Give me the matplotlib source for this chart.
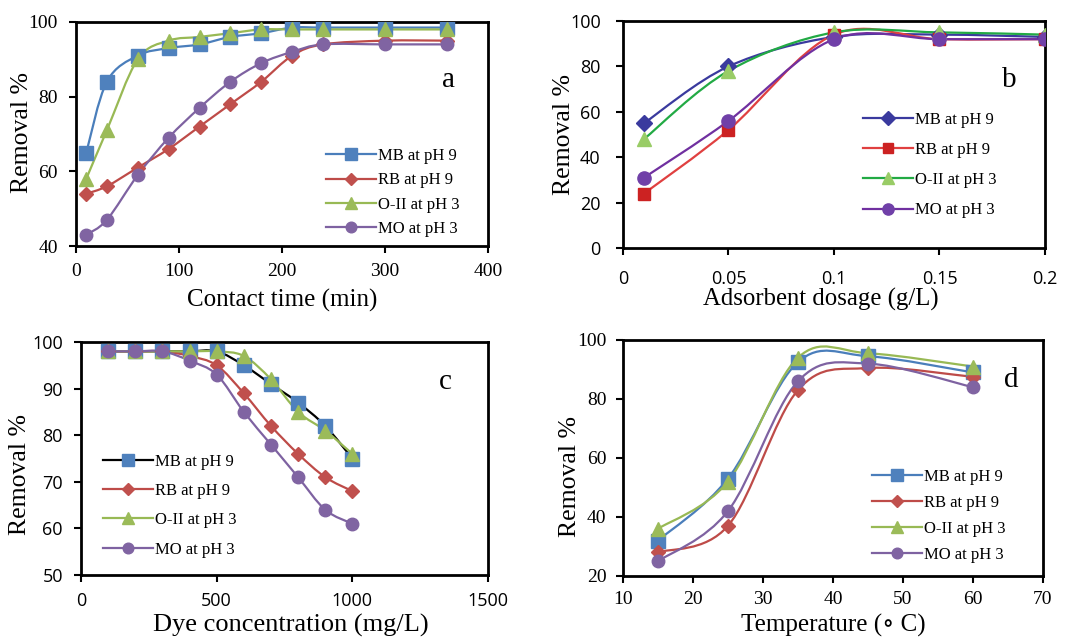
import matplotlib
matplotlib.use("Agg")
import matplotlib.pyplot as plt
import numpy as np
from matplotlib.path import Path
from matplotlib.patches import PathPatch
from matplotlib.lines import Line2D

# ---------------- data ----------------
series_names = ["MB at pH 9", "RB at pH 9", "O-II at pH 3", "MO at pH 3"]

time_min = [10, 30, 60, 90, 120, 150, 180, 210, 240, 300, 360]
a_mb = [65, 84, 91, 93, 94, 96, 97, 98.5, 98.5, 98.5, 98.5]
a_rb = [54, 56, 61, 66, 72, 78, 84, 91, 94, 95, 95]
a_o2 = [58, 71, 90, 95, 96, 97, 98, 98, 98, 98, 98]
a_mo = [43, 47, 59, 69, 77, 84, 89, 92, 94, 94, 94]

dosage = [0.01, 0.05, 0.1, 0.15, 0.2]
b_mb = [55, 80, 93, 94, 93]
b_rb = [24, 52, 94, 92, 92]
b_o2 = [48, 78, 95, 95, 94]
b_mo = [31, 56, 92, 92, 92]

conc = [100, 200, 300, 400, 500, 600, 700, 800, 900, 1000]
c_mb = [98, 98, 98, 98, 98, 95, 91, 87, 82, 75]
c_rb = [98, 98, 98, 97, 95, 89, 82, 76, 71, 68]
c_o2 = [98, 98, 98, 98, 98, 97, 92, 85, 81, 76]
c_mo = [98, 98, 98, 96, 93, 85, 78, 71, 64, 61]

temp = [15, 25, 35, 45, 60]
d_mb = [32, 53, 92.5, 94.5, 89]
d_rb = [28, 37, 83, 90.5, 87.5]
d_o2 = [36, 52, 94, 95.5, 91]
d_mo = [25, 42, 86, 92, 84]

# ---------------- styles ----------------
SERIF = ["Liberation Serif", "DejaVu Serif"]
SANS = ["Open Sans", "DejaVu Sans"]

excel_style = [
    dict(lc="#4A7EBB", mc="#4F81BD", m="s", ms=9.5),
    dict(lc="#BE4B48", mc="#C0504D", m="D", ms=7.5),
    dict(lc="#98B954", mc="#9BBB59", m="^", ms=10),
    dict(lc="#7E62A1", mc="#8064A2", m="o", ms=9),
]
b_style = [
    dict(lc="#3A3A9E", mc="#3A3A9E", m="D", ms=8.5),
    dict(lc="#E04040", mc="#CC2222", m="s", ms=9),
    dict(lc="#22AA44", mc="#99CC66", m="^", ms=10),
    dict(lc="#7030A0", mc="#7040A8", m="o", ms=9.5),
]
c_style = [dict(excel_style[0]), excel_style[1], excel_style[2], excel_style[3]]
c_style[0]["lc"] = "#000000"


def smooth_path(x, y):
    """Excel-like smoothed line as cubic Bezier path through the data points."""
    x = np.asarray(x, float)
    y = np.asarray(y, float)
    px = np.concatenate([[x[0]], x, [x[-1]]])
    py = np.concatenate([[y[0]], y, [y[-1]]])
    verts = [(x[0], y[0])]
    codes = [Path.MOVETO]
    for i in range(1, len(px) - 2):
        c1 = (px[i] + (px[i + 1] - px[i - 1]) / 6, py[i] + (py[i + 1] - py[i - 1]) / 6)
        c2 = (px[i + 1] - (px[i + 2] - px[i]) / 6, py[i + 1] - (py[i + 2] - py[i]) / 6)
        verts += [c1, c2, (px[i + 1], py[i + 1])]
        codes += [Path.CURVE4] * 3
    return Path(verts, codes)


def draw_panel(ax, x, ys, styles, xlim, xticks, xticklabels, ylim, yticks,
               xlabel, letter, letter_pos, tick_family, tick_size, label_size,
               xpad, ypad, xlabel_xy, ylabel_xy, legend_anchor, legend_spacing,
               lw=1.6):
    for y, st in zip(ys, styles):
        ax.add_patch(PathPatch(smooth_path(x, y), facecolor="none",
                               edgecolor=st["lc"], lw=lw, zorder=2))
        ax.plot(x, y, linestyle="none", marker=st["m"], markersize=st["ms"],
                markerfacecolor=st["mc"], markeredgecolor=st["mc"], zorder=3)
    ax.set_xlim(*xlim)
    ax.set_ylim(*ylim)
    ax.set_xticks(xticks)
    ax.set_xticklabels(xticklabels)
    ax.set_yticks(yticks)
    for lab in ax.get_xticklabels() + ax.get_yticklabels():
        lab.set_family(tick_family)
        lab.set_fontsize(tick_size)
    ax.tick_params(direction="out", length=5, width=1.5, color="black")
    ax.tick_params(axis="x", pad=xpad)
    ax.tick_params(axis="y", pad=ypad)
    for sp in ax.spines.values():
        sp.set_linewidth(2)
        sp.set_color("black")
    ax.set_xlabel(xlabel, family=SERIF, fontsize=label_size)
    ax.set_ylabel("Removal %", family=SERIF, fontsize=18.5)
    ax.xaxis.set_label_coords(*xlabel_xy)
    ax.yaxis.set_label_coords(*ylabel_xy)
    ax.xaxis.label.set_va("center")
    ax.yaxis.label.set_va("center")
    ax.text(letter_pos[0], letter_pos[1], letter, transform=ax.transAxes,
            family=SERIF, fontsize=21, ha="center", va="center")
    handles = [Line2D([], [], color=st["lc"], lw=lw, marker=st["m"],
                      markersize=st["ms"] * 0.85, markerfacecolor=st["mc"],
                      markeredgecolor=st["mc"]) for st in styles]
    ax.legend(handles, series_names, loc="lower left", bbox_to_anchor=legend_anchor,
              frameon=False, prop={"family": SERIF, "size": 12},
              handlelength=3.0, handletextpad=0.1, labelspacing=legend_spacing,
              borderaxespad=0, borderpad=0)


fig = plt.figure(figsize=(10.7, 6.37), dpi=100)
fig.patch.set_facecolor("white")

ax_a = fig.add_axes([0.0710, 0.6138, 0.3850, 0.3517])
ax_b = fig.add_axes([0.5822, 0.6107, 0.3944, 0.3563])
ax_c = fig.add_axes([0.0757, 0.0973, 0.3804, 0.3658])
ax_d = fig.add_axes([0.5822, 0.0958, 0.3925, 0.3705])

draw_panel(ax_a, time_min, [a_mb, a_rb, a_o2, a_mo], excel_style,
           (0, 400), [0, 100, 200, 300, 400], ["0", "100", "200", "300", "400"],
           (40, 100), [40, 60, 80, 100], "Contact time (min)", "a", (0.905, 0.74),
           SERIF, 14, 18, 7, 8, (0.501, -0.245), (-0.13, 0.505),
           (0.607, 0.04), 0.5)

draw_panel(ax_b, dosage, [b_mb, b_rb, b_o2, b_mo], b_style,
           (0, 0.2), [0, 0.05, 0.1, 0.15, 0.2], ["0", "0.05", "0.1", "0.15", "0.2"],
           (0, 100), [0, 20, 40, 60, 80, 100], "Adsorbent dosage (g/L)", "b", (0.915, 0.74),
           SANS, 13, 17.8, 11, 11, (0.468, -0.225), (-0.14, 0.5),
           (0.57, 0.13), 0.85)

draw_panel(ax_c, conc, [c_mb, c_rb, c_o2, c_mo], c_style,
           (0, 1500), [0, 500, 1000, 1500], ["0", "500", "1000", "1500"],
           (50, 100), [50, 60, 70, 80, 90, 100], "Dye concentration (mg/L)", "c", (0.894, 0.83),
           SANS, 13, 19, 7.5, 8, (0.515, -0.218), (-0.15, 0.431),
           (0.055, 0.075), 0.8)

draw_panel(ax_d, temp, [d_mb, d_rb, d_o2, d_mo], excel_style,
           (10, 70), [10, 20, 30, 40, 50, 60, 70], ["10", "20", "30", "40", "50", "60", "70"],
           (20, 100), [20, 40, 60, 80, 100], "Temperature (\u2218 C)", "d", (0.925, 0.83),
           SERIF, 14, 18, 6, 7, (0.501, -0.208), (-0.127, 0.42),
           (0.593, 0.055), 0.6)

fig.savefig("out.png", dpi=100, facecolor="white")
